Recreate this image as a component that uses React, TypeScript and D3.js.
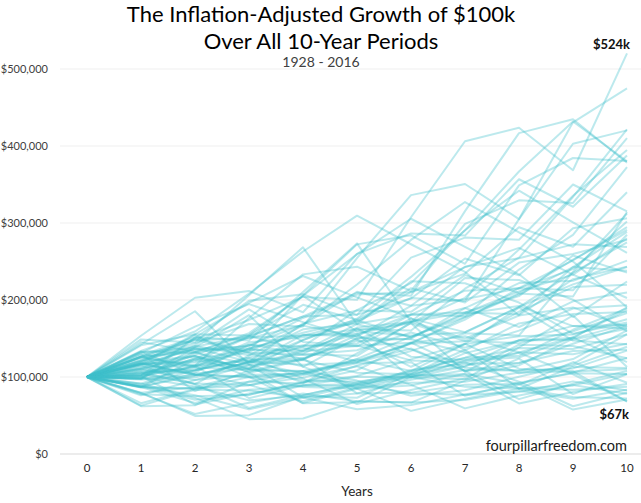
import React from "react";
import * as d3 from "d3";

// Annual inflation-adjusted (real) S&P 500 total returns, %, 1928–2016
const firstYear = 1928;
const realReturnsPct = [
  45.3, -8.5, -20.3, -37.9, 1.9, 48.8, -2.7, 42.5, 30.1, -37.2,
  33.0, -1.1, -11.3, -20.6, 9.3, 21.4, 16.4, 32.9, -22.5, -3.3,
  2.6, 20.8, 23.5, 16.7, 17.2, -1.9, 53.6, 32.1, 4.3, -13.0,
  41.2, 10.2, -1.0, 25.8, -10.0, 20.7, 15.3, 10.3, -13.0, 20.2,
  5.8, -13.6, -1.9, 10.6, 14.9, -21.2, -34.0, 28.2, 18.0, -12.8,
  -2.3, 4.6, 17.1, -12.5, 16.0, 17.9, 2.2, 26.4, 17.2, 1.4,
  11.6, 25.7, -8.6, 26.3, 4.5, 7.1, -1.3, 33.9, 18.8, 30.9,
  26.3, 17.7, -12.0, -13.2, -23.8, 26.0, 7.2, 1.4, 12.8, 1.3,
  -36.6, 22.6, 13.1, -0.9, 14.0, 30.2, 12.6, 0.7, 9.5,
];
const startAmount = 100000;
const periodYears = [0, 1, 2, 3, 4, 5, 6, 7, 8, 9, 10];
const yTicks = [0, 100000, 200000, 300000, 400000, 500000];
const maxLabel = "$524k";
const minLabel = "$67k";
const titleLines = ["The Inflation-Adjusted Growth of $100k", "Over All 10-Year Periods"];
const subtitle = "1928 - 2016";
const xTitle = "Years";
const credit = "fourpillarfreedom.com";

// Build one growth path per 10-year window by compounding the returns
const windows: { start: number; values: number[] }[] = [];
for (let s = 0; s + 10 <= realReturnsPct.length; s++) {
  const vals = [startAmount];
  for (let k = 0; k < 10; k++) vals.push(vals[k] * (1 + realReturnsPct[s + k] / 100));
  windows.push({ start: firstYear + s, values: vals });
}

const W = 641;
const H = 503;
const FONT = "Lato, 'Open Sans', sans-serif";

export default function App() {
  const x = d3.scaleLinear().domain([0, 10]).range([87, 627]);
  const y = d3.scaleLinear().domain([0, 500000]).range([454, 69]);
  const line = d3
    .line<number>()
    .x((_, i) => x(periodYears[i]))
    .y((d) => y(d));
  const fmt = d3.format("$,.0f");

  const finals = windows.map((w) => w.values[10]);
  const maxW = windows[d3.maxIndex(finals)];
  const minW = windows[d3.minIndex(finals)];

  return (
    <svg width={W} height={H} style={{ position: "absolute", left: 0, top: 0, background: "#fff" }} fontFamily={FONT}>
      <rect width={W} height={H} fill="#fff" />
      {yTicks.map((t) => (
        <g key={t}>
          <line x1={60} x2={W} y1={y(t)} y2={y(t)} stroke={t === 0 ? "#d9d9d9" : "#efefef"} strokeWidth={1} />
          <text x={48} y={y(t)} dy="0.35em" textAnchor="end" fontSize={11} fill="#404040">
            {fmt(t)}
          </text>
        </g>
      ))}
      {periodYears.map((p) => (
        <text key={p} x={x(p)} y={472} textAnchor="middle" fontSize={11.5} fill="#262626">
          {p}
        </text>
      ))}
      <text x={357} y={496} textAnchor="middle" fontSize={13.5} fill="#262626">
        {xTitle}
      </text>
      <g>
        {windows.map((w) => (
          <path
            key={w.start}
            d={line(w.values) || ""}
            fill="none"
            stroke="#3fbfca"
            strokeOpacity={0.35}
            strokeWidth={2}
            strokeLinejoin="round"
          />
        ))}
      </g>
      <text x={x(10) + 3} y={y(maxW.values[10]) - 4} textAnchor="end" fontSize={13} fontWeight="bold" fill="#111">
        {maxLabel}
      </text>
      <text x={x(10) + 2} y={y(minW.values[10]) + 17} textAnchor="end" fontSize={13} fontWeight="bold" fill="#111">
        {minLabel}
      </text>
      <text x={627} y={451} textAnchor="end" fontSize={14.5} fill="#1a1a1a">
        {credit}
      </text>
      {titleLines.map((t, i) => (
        <text key={i} x={321} y={22 + i * 27} textAnchor="middle" fontSize={22} fill="#000">
          {t}
        </text>
      ))}
      <text x={321} y={67} textAnchor="middle" fontSize={14} fill="#404040">
        {subtitle}
      </text>
    </svg>
  );
}
